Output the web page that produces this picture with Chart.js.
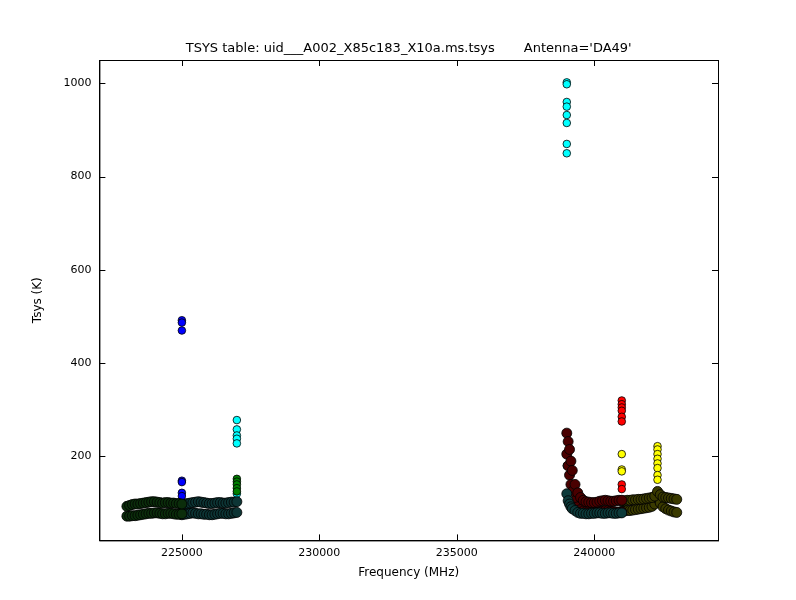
<!DOCTYPE html>
<html>
<head>
<meta charset="utf-8">
<script src="https://cdn.jsdelivr.net/npm/chart.js@4"></script>
<style>
  body { margin: 0; background: #fff; }
</style>
</head>
<body>
<canvas id="myChart" width="796" height="600"></canvas>
<script>
// channel frequencies (MHz) of the four spectral windows
var freqA = [223000,223100,223200,223300,223400,223500,223600,223700,223800,223900,224000,224100,224200,224300,224400,224500,224600,224700,224800,224900,225000];
var freqB = [225000,225100,225200,225300,225400,225500,225600,225700,225800,225900,226000,226100,226200,226300,226400,226500,226600,226700,226800,226900,227000];
var freqC = [239000,239050,239100,239150,239200,239300,239400,239500,239600,239700,239800,239900,240000,240100,240200,240300,240400,240500,240600,240700,240800,240900,241000];
var freqD = [241000,241100,241200,241300,241400,241500,241600,241700,241800,241900,242000,242100,242200,242300,242400,242500,242600,242700,242800,242900,243000];

// Tsys (K), two polarisations per window
var tsysA1 = [93,95,97,98,98,99,100,101,102,103,103,102,101,100,101,101,100,100,99,99,98];
var tsysA2 = [72,72,73,73,74,75,76,77,78,78,79,79,78,77,77,78,78,77,76,76,77];
var tsysB1 = [97,98,99,100,101,102,103,102,101,100,99,99,100,101,101,100,100,101,102,102,103];
var tsysB2 = [75,76,77,78,79,78,77,77,76,76,75,75,76,77,78,78,77,77,78,79,80];
var tsysC1 = [250,232,215,190,170,140,122,112,106,103,102,101,101,102,104,105,106,105,104,104,105,106,106];
var tsysC2 = [205,180,160,140,125,105,92,86,83,82,82,81,81,81,82,83,84,84,83,82,81,81,81];
var tsysC3 = [120,105,98,92,88,84,80,78,78,77,77,78,78,79,79,78,78,79,79,78,78,79,79];
var tsysD1 = [104,105,106,106,107,107,108,108,109,110,111,112,115,125,118,113,112,111,110,109,108];
var tsysD2 = [82,83,84,84,85,86,87,88,89,90,91,93,98,110,100,92,88,85,83,81,80];

// spikes
var spikeBlueX = [225000,225000,225000,225000,225000,225000,225000];
var spikeBlue = [492,487,470,148,145,122,115];
var spikeCyanX = [227000,227000,227000,227000,227000,227000,225000,225000,225000];
var spikeCyan = [278,258,245,238,228,120,100,92,75];
var spikeGreenX = [227000,227000,227000,227000,227000];
var spikeGreen = [152,146,140,132,125];
var spikeCyan2X = [239000,239000,239000,239000,239000,239000,239000,239000,239000];
var spikeCyan2 = [1002,998,960,950,932,915,870,850,180];
var spikeRedX = [241000,241000,241000,241000,241000,241000,241000,241000];
var spikeRed = [320,312,305,298,285,275,140,130];
var spikeYellowX = [241000,241000,241000,242300,242300,242300,242300,242300,242300,242300,242300];
var spikeYellow = [205,172,168,222,215,205,195,185,175,160,150];

var xTicks = [225000, 230000, 235000, 240000];
var yTicks = [200, 400, 600, 800, 1000];
var titleText = "TSYS table: uid___A002_X85c183_X10a.ms.tsys       Antenna='DA49'";

function pts(xs, ys) {
  return xs.map(function (x, i) { return { x: x, y: ys[i] }; });
}
function ds(xs, ys, fill, r) {
  return { data: pts(xs, ys), backgroundColor: fill, borderColor: '#000', borderWidth: 0.8, pointRadius: r || 3.8 };
}

var myChart = new Chart(document.getElementById('myChart'), {
  type: 'scatter',
  data: {
    datasets: [
      ds(freqA, tsysA1, '#0b2d0b', 5),
      ds(freqA, tsysA2, '#0b2d0b', 5),
      ds(spikeBlueX, spikeBlue, '#0000ff'),
      ds(freqB, tsysB1, '#0d3535', 5),
      ds(freqB, tsysB2, '#0d3535', 5),
      ds(spikeGreenX, spikeGreen, '#008000'),
      ds(spikeCyanX, spikeCyan, '#00ffff'),
      ds(freqC, tsysC3, '#0d3a3a', 5),
      ds(freqC, tsysC1, '#4a0000', 5),
      ds(freqC, tsysC2, '#4a0000', 5),
      ds(freqD, tsysD1, '#3a3a00', 5),
      ds(freqD, tsysD2, '#3a3a00', 5),
      ds(spikeCyan2X, spikeCyan2, '#00ffff'),
      ds(spikeRedX, spikeRed, '#ff0000'),
      ds(spikeYellowX, spikeYellow, '#ffff00')
    ]
  },
  options: {
    responsive: false,
    animation: false,
    devicePixelRatio: 1,
    layout: { padding: { left: 21, right: 78, top: 60, bottom: 20 } },
    plugins: {
      legend: { display: false },
      tooltip: { enabled: false },
      title: { display: false }
    },
    scales: {
      x: {
        type: 'linear', min: 222000, max: 244500,
        afterBuildTicks: function (ax) { ax.ticks = xTicks.map(function (v) { return { value: v }; }); },
        ticks: { color: '#000', autoSkip: false, font: { family: 'DejaVu Sans', size: 11 }, maxRotation: 0, padding: 6, callback: function (v) { return String(v); } },
        grid: { display: false, drawTicks: false },
        border: { color: '#000', width: 1 },
        title: { display: true, text: 'Frequency (MHz)', color: '#000', font: { family: 'DejaVu Sans', size: 12 }, padding: 0 }
      },
      y: {
        type: 'linear', min: 20, max: 1050,
        afterBuildTicks: function (ax) { ax.ticks = yTicks.map(function (v) { return { value: v }; }); },
        ticks: { color: '#000', autoSkip: false, font: { family: 'DejaVu Sans', size: 11 }, padding: 8, callback: function (v) { return String(v); } },
        grid: { display: false, drawTicks: false },
        border: { color: '#000', width: 1 },
        title: { display: true, text: 'Tsys (K)', color: '#000', font: { family: 'DejaVu Sans', size: 12 }, padding: 10 }
      }
    }
  },
  plugins: [{
    // box frame, inward ticks and a title centred over the axes
    id: 'frame',
    afterDraw: function (chart) {
      var c = chart.ctx, a = chart.chartArea, x = chart.scales.x, y = chart.scales.y;
      c.save();
      c.strokeStyle = '#000';
      c.lineWidth = 1;
      c.strokeRect(a.left + 0.5, a.top + 0.5, a.right - a.left, a.bottom - a.top);
      c.beginPath();
      x.ticks.forEach(function (t) {
        var px = Math.round(x.getPixelForValue(t.value)) + 0.5;
        c.moveTo(px, a.bottom); c.lineTo(px, a.bottom - 6);
        c.moveTo(px, a.top); c.lineTo(px, a.top + 6);
      });
      y.ticks.forEach(function (t) {
        var py = Math.round(y.getPixelForValue(t.value)) + 0.5;
        c.moveTo(a.left, py); c.lineTo(a.left + 6, py);
        c.moveTo(a.right, py); c.lineTo(a.right - 6, py);
      });
      c.stroke();
      c.fillStyle = '#000';
      c.font = '13px "DejaVu Sans"';
      c.textAlign = 'center';
      c.textBaseline = 'alphabetic';
      c.fillText(titleText, (a.left + a.right) / 2, a.top - 8);
      c.restore();
    }
  }]
});
</script>
</body>
</html>
